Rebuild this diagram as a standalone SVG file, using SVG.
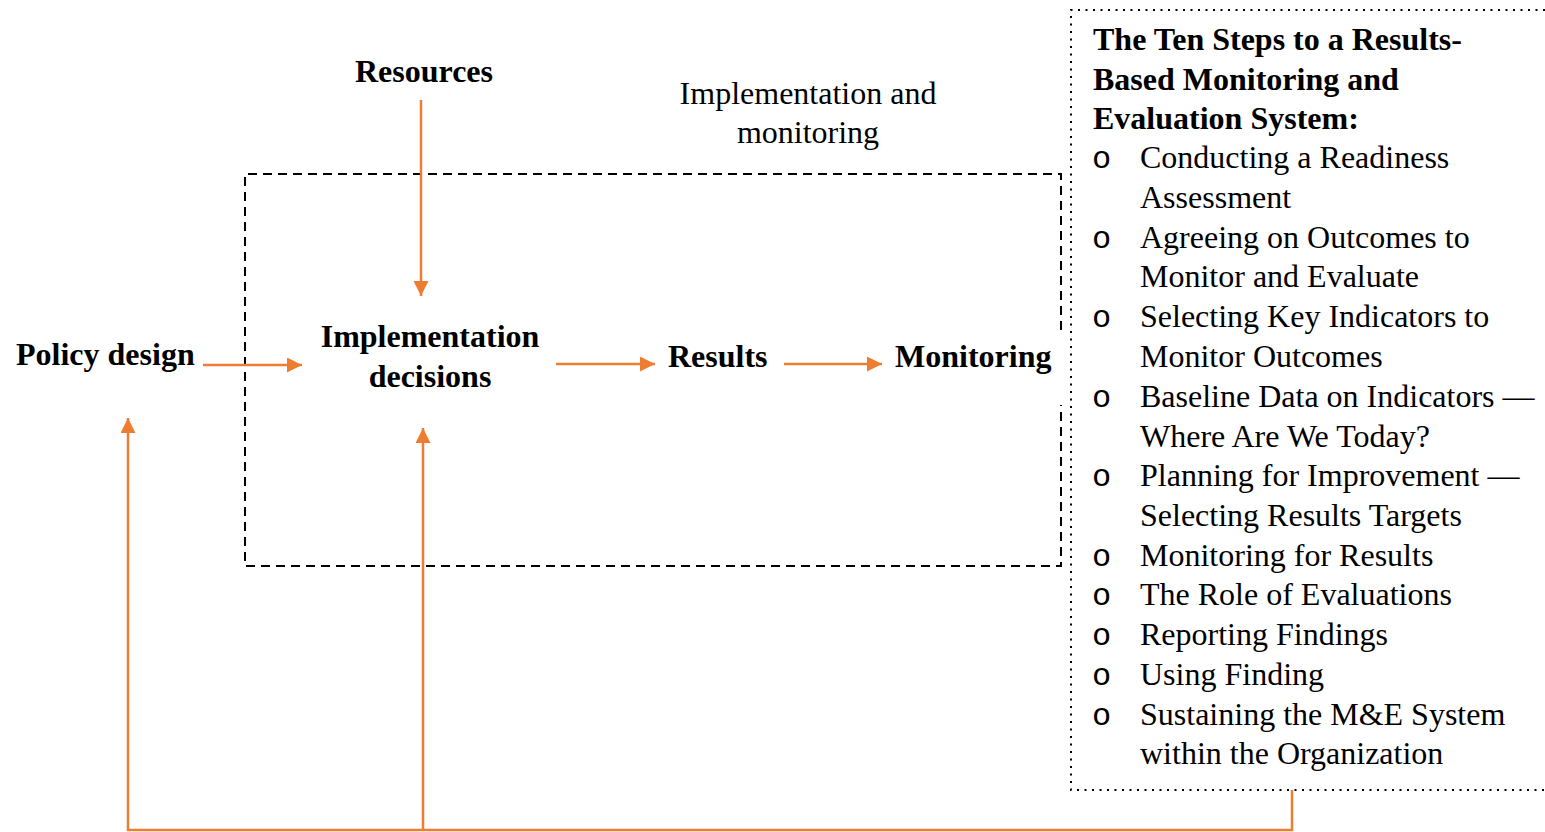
<svg xmlns="http://www.w3.org/2000/svg" width="1545" height="832" viewBox="0 0 1545 832">
<style>
text{font-family:"Liberation Serif","Times New Roman",serif;font-size:32px;fill:#000}
.b{font-weight:bold}
.c{text-anchor:middle}
.o{font-family:"Liberation Mono","Courier New",monospace}
.or{stroke:#ED7D31;stroke-width:2.5;fill:none}
.dash{stroke:#000;stroke-width:2;fill:none;stroke-dasharray:9 6}
.dot{stroke:#000;stroke-width:2;fill:none;stroke-dasharray:2 5.5}
</style>
<defs>
<marker id="ah" viewBox="0 0 10 10" refX="10" refY="5" markerWidth="15" markerHeight="15" markerUnits="userSpaceOnUse" orient="auto">
<path d="M0,0 L10,5 L0,10 Z" fill="#ED7D31"/>
</marker>
</defs>
<g id="frame-implementation">
<path class="dash" d="M1061,330 L1061,174 L245,174 L245,566 L1061,566 L1061,405"/>
<text class="c" x="808" y="104">Implementation and</text>
<text class="c" x="808" y="143">monitoring</text>
</g>
<g id="steps-box">
<path class="dot" d="M1545,10 L1071,10 L1071,790 L1545,790"/>
<text class="b" x="1093" y="50">The Ten Steps to a Results-</text>
<text class="b" x="1093" y="90">Based Monitoring and</text>
<text class="b" x="1093" y="129">Evaluation System:</text>
<g id="bullets">
<text class="o" x="1092" y="168">o</text><text x="1140" y="168">Conducting a Readiness</text>
<text x="1140" y="208">Assessment</text>
<text class="o" x="1092" y="248">o</text><text x="1140" y="248">Agreeing on Outcomes to</text>
<text x="1140" y="287">Monitor and Evaluate</text>
<text class="o" x="1092" y="327">o</text><text x="1140" y="327">Selecting Key Indicators to</text>
<text x="1140" y="367">Monitor Outcomes</text>
<text class="o" x="1092" y="407">o</text><text x="1140" y="407">Baseline Data on Indicators —</text>
<text x="1140" y="447">Where Are We Today?</text>
<text class="o" x="1092" y="486">o</text><text x="1140" y="486">Planning for Improvement —</text>
<text x="1140" y="526">Selecting Results Targets</text>
<text class="o" x="1092" y="566">o</text><text x="1140" y="566">Monitoring for Results</text>
<text class="o" x="1092" y="605">o</text><text x="1140" y="605">The Role of Evaluations</text>
<text class="o" x="1092" y="645">o</text><text x="1140" y="645">Reporting Findings</text>
<text class="o" x="1092" y="685">o</text><text x="1140" y="685">Using Finding</text>
<text class="o" x="1092" y="725">o</text><text x="1140" y="725">Sustaining the M&amp;E System</text>
<text x="1140" y="764">within the Organization</text>
</g>
</g>
<g id="resources"><text class="b c" x="424" y="82">Resources</text></g>
<g id="policy-design"><text class="b" x="16" y="365">Policy design</text></g>
<g id="implementation-decisions">
<text class="b c" x="430" y="347">Implementation</text>
<text class="b c" x="430" y="387">decisions</text>
</g>
<g id="results"><text class="b" x="668" y="367">Results</text></g>
<g id="monitoring"><text class="b" x="895" y="367">Monitoring</text></g>
<g id="connectors">
<line class="or" x1="421" y1="100" x2="421" y2="296" marker-end="url(#ah)"/>
<line class="or" x1="203" y1="365" x2="302" y2="365" marker-end="url(#ah)"/>
<line class="or" x1="556" y1="364" x2="655" y2="364" marker-end="url(#ah)"/>
<line class="or" x1="784" y1="364" x2="882" y2="364" marker-end="url(#ah)"/>
<polyline class="or" points="1292,790 1292,830 128,830 128,418" marker-end="url(#ah)"/>
<line class="or" x1="423" y1="830" x2="423" y2="428" marker-end="url(#ah)"/>
</g>
</svg>
